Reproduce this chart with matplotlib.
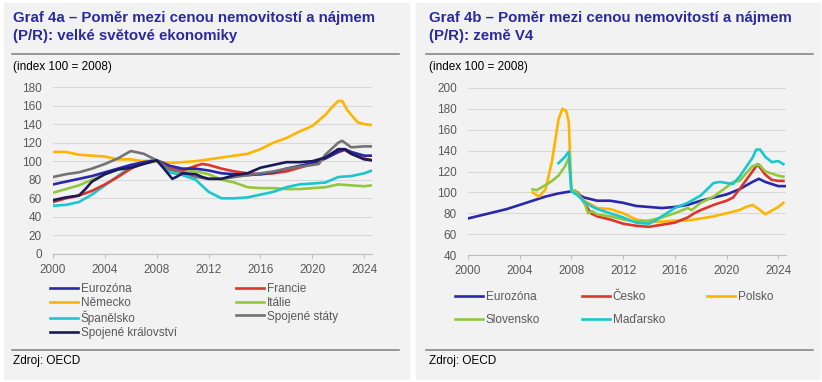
import matplotlib.pyplot as plt
from matplotlib.patches import Rectangle
from matplotlib.lines import Line2D

plt.rcParams['font.family'] = ['Liberation Sans', 'DejaVu Sans']

W, H = 822, 382
title_color = '#2a2aa0'
tick_color = '#595959'
grid_color = '#d9d9d9'

col_ez = '#2828a8'
col_red = '#e0332c'
col_orange = '#ffb400'
col_green = '#92c83e'
col_cyan = '#18c8d0'
col_gray = '#737373'
col_navy = '#1a1a5a'

# ---- Graf 4a data (index 100 = 2008) ----
ez_x = [2000, 2001, 2002, 2003, 2004, 2005, 2006, 2007, 2008, 2009, 2010, 2011, 2012, 2013,
        2014, 2015, 2016, 2017, 2018, 2019, 2020, 2021, 2022, 2022.5, 2023, 2024, 2024.6]
ez_y = [75, 78, 81, 84, 88, 92, 96, 99, 101, 95, 92, 92, 90, 87,
        86, 85, 86, 88, 92, 95, 98, 103, 110, 113, 110, 106, 106]

fr_x = [2000, 2001, 2002, 2003, 2004, 2005, 2006, 2007, 2008, 2009, 2010, 2011, 2011.5, 2012,
        2013, 2014, 2015, 2016, 2017, 2018, 2019, 2020, 2021, 2022, 2022.5, 2023, 2024, 2024.6]
fr_y = [56, 60, 63, 68, 75, 83, 92, 98, 101, 92, 90, 95, 97, 96,
        92, 89, 87, 86, 87, 89, 93, 97, 103, 110, 112, 108, 103, 101]

de_x = [2000, 2001, 2002, 2003, 2004, 2005, 2006, 2007, 2008, 2009, 2010, 2011, 2012, 2013,
        2014, 2015, 2016, 2017, 2018, 2019, 2020, 2021, 2021.5, 2022, 2022.3, 2022.7, 2023,
        2023.5, 2024, 2024.6]
de_y = [110, 110, 107, 106, 105, 102, 102, 100, 100, 98, 99, 100, 102, 104,
        106, 108, 113, 120, 125, 132, 138, 150, 158, 165, 165, 155, 150,
        142, 140, 139]

it_x = [2000, 2001, 2002, 2003, 2004, 2005, 2006, 2007, 2008, 2009, 2010, 2011, 2012, 2013,
        2014, 2015, 2016, 2017, 2018, 2019, 2020, 2021, 2022, 2023, 2024, 2024.6]
it_y = [66, 70, 74, 80, 86, 91, 95, 98, 100, 92, 90, 89, 86, 80,
        77, 72, 71, 71, 70, 70, 71, 72, 75, 74, 73, 74]

es_x = [2000, 2001, 2002, 2003, 2004, 2005, 2006, 2007, 2008, 2009, 2010, 2011, 2012, 2013,
        2014, 2015, 2016, 2017, 2018, 2019, 2020, 2021, 2022, 2023, 2024, 2024.6]
es_y = [52, 53, 56, 64, 74, 84, 94, 100, 101, 88, 85, 80, 67, 60,
        60, 61, 64, 67, 72, 75, 76, 77, 83, 84, 87, 90]

us_x = [2000, 2001, 2002, 2003, 2004, 2005, 2006, 2007, 2008, 2009, 2010, 2011, 2012, 2013,
        2014, 2015, 2016, 2017, 2018, 2019, 2020, 2020.5, 2021, 2022, 2022.3, 2023, 2024, 2024.6]
us_y = [83, 86, 88, 92, 97, 103, 111, 108, 101, 91, 88, 83, 81, 81,
        83, 85, 87, 89, 92, 94, 96, 97, 107, 120, 122, 115, 116, 116]

uk_x = [2000, 2001, 2002, 2002.5, 2003, 2004, 2005, 2006, 2007, 2008, 2008.5, 2009.2, 2009.5,
        2010, 2011, 2011.5, 2012, 2013, 2014, 2015, 2016, 2017, 2018, 2019, 2020, 2021, 2022,
        2022.5, 2023, 2024, 2024.6]
uk_y = [58, 61, 63, 70, 78, 86, 91, 93, 97, 101, 93, 81, 83,
        87, 86, 83, 81, 81, 85, 87, 93, 96, 99, 99, 100, 104, 113,
        113, 108, 102, 101]

# ---- Graf 4b data (index 100 = 2008) ----
cz_x = [2008, 2008.5, 2009, 2009.5, 2010, 2011, 2012, 2013, 2014, 2015, 2016, 2017, 2017.5,
        2018, 2019, 2020, 2020.5, 2021, 2022, 2022.4, 2023, 2023.5, 2024, 2024.4]
cz_y = [101, 100, 90, 80, 77, 74, 70, 68, 67, 69, 71, 76, 80,
        83, 88, 92, 95, 103, 120, 127, 117, 112, 111, 111]

pl_x = [2005, 2005.5, 2006, 2006.5, 2007, 2007.3, 2007.6, 2007.8, 2008, 2008.5, 2009, 2010,
        2011, 2012, 2013, 2014, 2015, 2016, 2017, 2018, 2019, 2020, 2021, 2021.5, 2022,
        2022.5, 2023, 2024, 2024.4]
pl_y = [100, 96, 103, 130, 170, 180, 178, 167, 102, 98, 92, 85,
        84, 80, 74, 72, 72, 73, 73, 75, 77, 80, 83, 86, 88,
        84, 79, 86, 90]

sk_x = [2005, 2005.3, 2006, 2006.5, 2007, 2007.5, 2007.8, 2008, 2008.3, 2009, 2009.3, 2009.6,
        2010, 2011, 2012, 2013, 2014, 2015, 2016, 2017, 2017.3, 2018, 2019, 2020, 2020.5,
        2021, 2022, 2022.5, 2023, 2023.5, 2024, 2024.4]
sk_y = [103, 102, 107, 111, 116, 125, 133, 101, 102, 90, 80, 82,
        79, 77, 74, 72, 73, 76, 80, 85, 83, 90, 96, 105, 110,
        111, 125, 127, 120, 118, 116, 115]

hu_x = [2007, 2007.5, 2007.8, 2008, 2008.5, 2009, 2009.5, 2010, 2011, 2012, 2013, 2014,
        2014.5, 2015, 2016, 2017, 2018, 2018.5, 2019, 2019.5, 2020, 2020.5, 2021, 2022,
        2022.3, 2022.6, 2023, 2023.5, 2024, 2024.4]
hu_y = [128, 134, 139, 101, 97, 91, 87, 84, 80, 76, 71, 70,
        73, 77, 85, 90, 97, 103, 109, 110, 109, 108, 115, 133,
        141, 141, 134, 129, 130, 127]

year_ticks = [2000, 2004, 2008, 2012, 2016, 2020, 2024]


def px_axes(fig, x0, x1, y_top, y_bot):
    return fig.add_axes([x0 / W, 1 - y_bot / H, (x1 - x0) / W, (y_bot - y_top) / H])


def style_axes(ax, yticks):
    ax.set_facecolor('none')
    for s in ['left', 'right', 'top']:
        ax.spines[s].set_visible(False)
    ax.spines['bottom'].set_color('#bfbfbf')
    ax.set_yticks(yticks)
    ax.set_ylim(yticks[0], yticks[-1])
    ax.set_xticks(year_ticks)
    ax.set_xlim(2000, 2024.6)
    ax.grid(axis='y', color=grid_color, lw=0.8)
    ax.set_axisbelow(True)
    ax.tick_params(axis='y', length=0, pad=8, labelsize=8.5, labelcolor=tick_color)
    ax.tick_params(axis='x', length=3, color='#bfbfbf', pad=4, labelsize=8.5,
                   labelcolor=tick_color)


def panel_frame(fig, x0, x1, lx0, lx1, tx, title1, title2):
    fig.patches.append(Rectangle((x0 / W, 1 - 379 / H), (x1 - x0) / W, 376 / H,
                                 transform=fig.transFigure, color='#f2f2f2', zorder=-5))
    fig.text(tx / W, 1 - 18 / H, title1, fontsize=10.8, fontweight='bold',
             color=title_color, va='center')
    fig.text(tx / W, 1 - 36 / H, title2, fontsize=10.8, fontweight='bold',
             color=title_color, va='center')
    for yy in [54, 349.5]:
        fig.add_artist(Line2D([lx0 / W, lx1 / W], [1 - yy / H, 1 - yy / H],
                              transform=fig.transFigure, color='#7f7f7f', lw=1.1))
    fig.text(tx / W, 1 - 67 / H, '(index 100 = 2008)', fontsize=8.5, color='black',
             va='center')
    fig.text(tx / W, 1 - 361 / H, 'Zdroj: OECD', fontsize=8.5, color='black', va='center')


fig = plt.figure(figsize=(W / 100, H / 100), dpi=100)
fig.patch.set_facecolor('white')

panel_frame(fig, 4, 409, 12, 399, 13,
            'Graf 4a – Poměr mezi cenou nemovitostí a nájmem',
            '(P/R): velké světové ekonomiky')
panel_frame(fig, 416, 820, 426, 813, 429,
            'Graf 4b – Poměr mezi cenou nemovitostí a nájmem',
            '(P/R): země V4')

lw = 1.9

# left chart
ax1 = px_axes(fig, 53, 372, 87, 254)
style_axes(ax1, list(range(0, 181, 20)))
h_it, = ax1.plot(it_x, it_y, color=col_green, lw=lw, label='Itálie')
h_es, = ax1.plot(es_x, es_y, color=col_cyan, lw=lw, label='Španělsko')
h_de, = ax1.plot(de_x, de_y, color=col_orange, lw=lw, label='Německo')
h_fr, = ax1.plot(fr_x, fr_y, color=col_red, lw=lw, label='Francie')
h_ez, = ax1.plot(ez_x, ez_y, color=col_ez, lw=lw, label='Eurozóna')
h_us, = ax1.plot(us_x, us_y, color=col_gray, lw=lw, label='Spojené státy')
h_uk, = ax1.plot(uk_x, uk_y, color=col_navy, lw=lw, label='Spojené království')

order1 = [h_ez, h_de, h_es, h_uk, h_fr, h_it, h_us]
leg1 = fig.legend(order1, [h.get_label() for h in order1],
                  ncol=2, loc='upper left', bbox_to_anchor=(50 / W, 1 - 283 / H),
                  frameon=False, fontsize=8.5, handlelength=2.4, handletextpad=0.2,
                  labelspacing=0.15, columnspacing=5.0, borderpad=0, borderaxespad=0)
for t in leg1.get_texts():
    t.set_color(tick_color)

# right chart
ax2 = px_axes(fig, 468, 786, 88, 255)
style_axes(ax2, list(range(40, 201, 20)))
h_ez2, = ax2.plot(ez_x, ez_y, color=col_ez, lw=lw, label='Eurozóna')
h_pl, = ax2.plot(pl_x, pl_y, color=col_orange, lw=lw, label='Polsko')
h_cz, = ax2.plot(cz_x, cz_y, color=col_red, lw=lw, label='Česko')
h_sk, = ax2.plot(sk_x, sk_y, color=col_green, lw=lw, label='Slovensko')
h_hu, = ax2.plot(hu_x, hu_y, color=col_cyan, lw=lw, label='Maďarsko')

order2 = [h_ez2, h_sk, h_cz, h_hu, h_pl]
leg2 = fig.legend(order2, [h.get_label() for h in order2],
                  ncol=3, loc='upper left', bbox_to_anchor=(455 / W, 1 - 291 / H),
                  frameon=False, fontsize=8.5, handlelength=2.4, handletextpad=0.2,
                  labelspacing=0.95, columnspacing=3.55, borderpad=0, borderaxespad=0)
for t in leg2.get_texts():
    t.set_color(tick_color)

fig.savefig('out.png', dpi=100, facecolor='white')
